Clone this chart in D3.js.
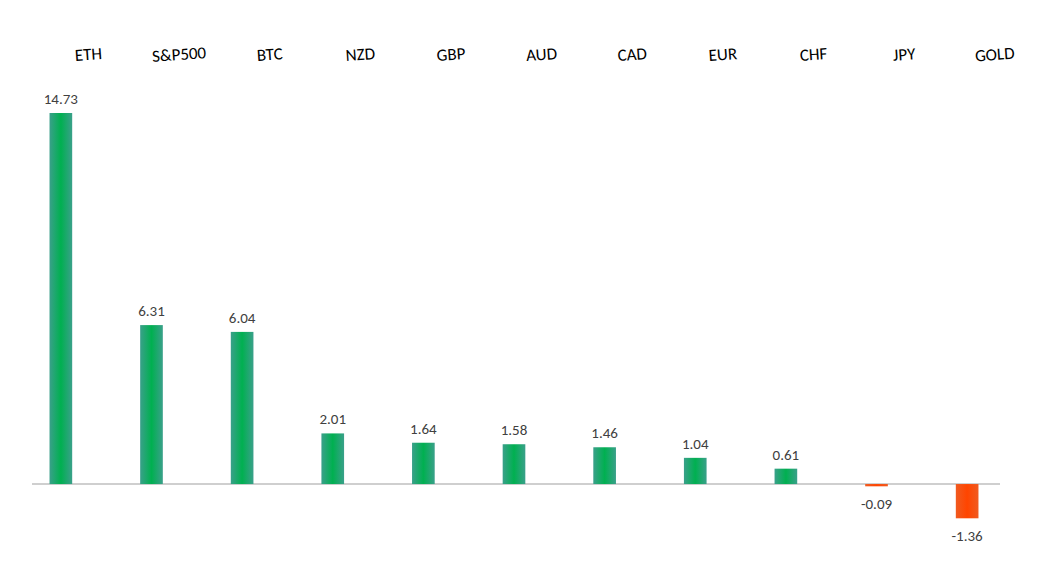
<!DOCTYPE html><html><head><meta charset="utf-8"><script src="https://cdn.jsdelivr.net/npm/d3@7"></script>
<style>body{margin:0;background:#fff}text{font-family:Calibri,Carlito,"Open Sans",sans-serif}</style></head><body><svg width="1046" height="578"></svg>
<script>
const categories=["ETH","S&P500","BTC","NZD","GBP","AUD","CAD","EUR","CHF","JPY","GOLD"];
const values=[14.73,6.31,6.04,2.01,1.64,1.58,1.46,1.04,0.61,-0.09,-1.36];
const svg=d3.select("svg");
const defs=svg.append("defs");
function grad(id,edge,mid){const g=defs.append("linearGradient").attr("id",id);
g.append("stop").attr("offset","0%").attr("stop-color",edge);g.append("stop").attr("offset","50%").attr("stop-color",mid);g.append("stop").attr("offset","100%").attr("stop-color",edge);}
grad("gp","#3aa08a","#00b050");grad("gn","#f05a20","#ff4500");
const x=d3.scaleBand().domain(categories).range([16,1012]).paddingInner(0.75).paddingOuter(0.37);
const y=d3.scaleLinear().domain([-1.36,14.73]).range([518.3,113]);
svg.append("line").attr("x1",32).attr("x2",1000).attr("y1",y(0)).attr("y2",y(0)).attr("stroke","#bfbfbf").attr("stroke-width",1.5);
svg.selectAll(".b").data(values).join("rect").attr("x",(d,i)=>x(categories[i])).attr("width",x.bandwidth())
.attr("y",d=>y(Math.max(0,d))).attr("height",d=>Math.max(1.5,Math.abs(y(d)-y(0)))).attr("fill",d=>d>=0?"url(#gp)":"url(#gn)");
svg.selectAll(".v").data(values).join("text").attr("x",(d,i)=>x(categories[i])+x.bandwidth()/2)
.attr("y",d=>d>=0?y(d)-9:y(d)+23).attr("text-anchor","middle").attr("font-size",15).attr("fill","#404040").text(d=>d.toFixed(2));
svg.selectAll(".c").data(categories).join("text").attr("font-size",17).attr("fill","#000").attr("text-anchor","middle")
.attr("transform",(c,i)=>`translate(${x(c)+x.bandwidth()/2+28},60) rotate(-4)`).text(c=>c);
</script></body></html>
